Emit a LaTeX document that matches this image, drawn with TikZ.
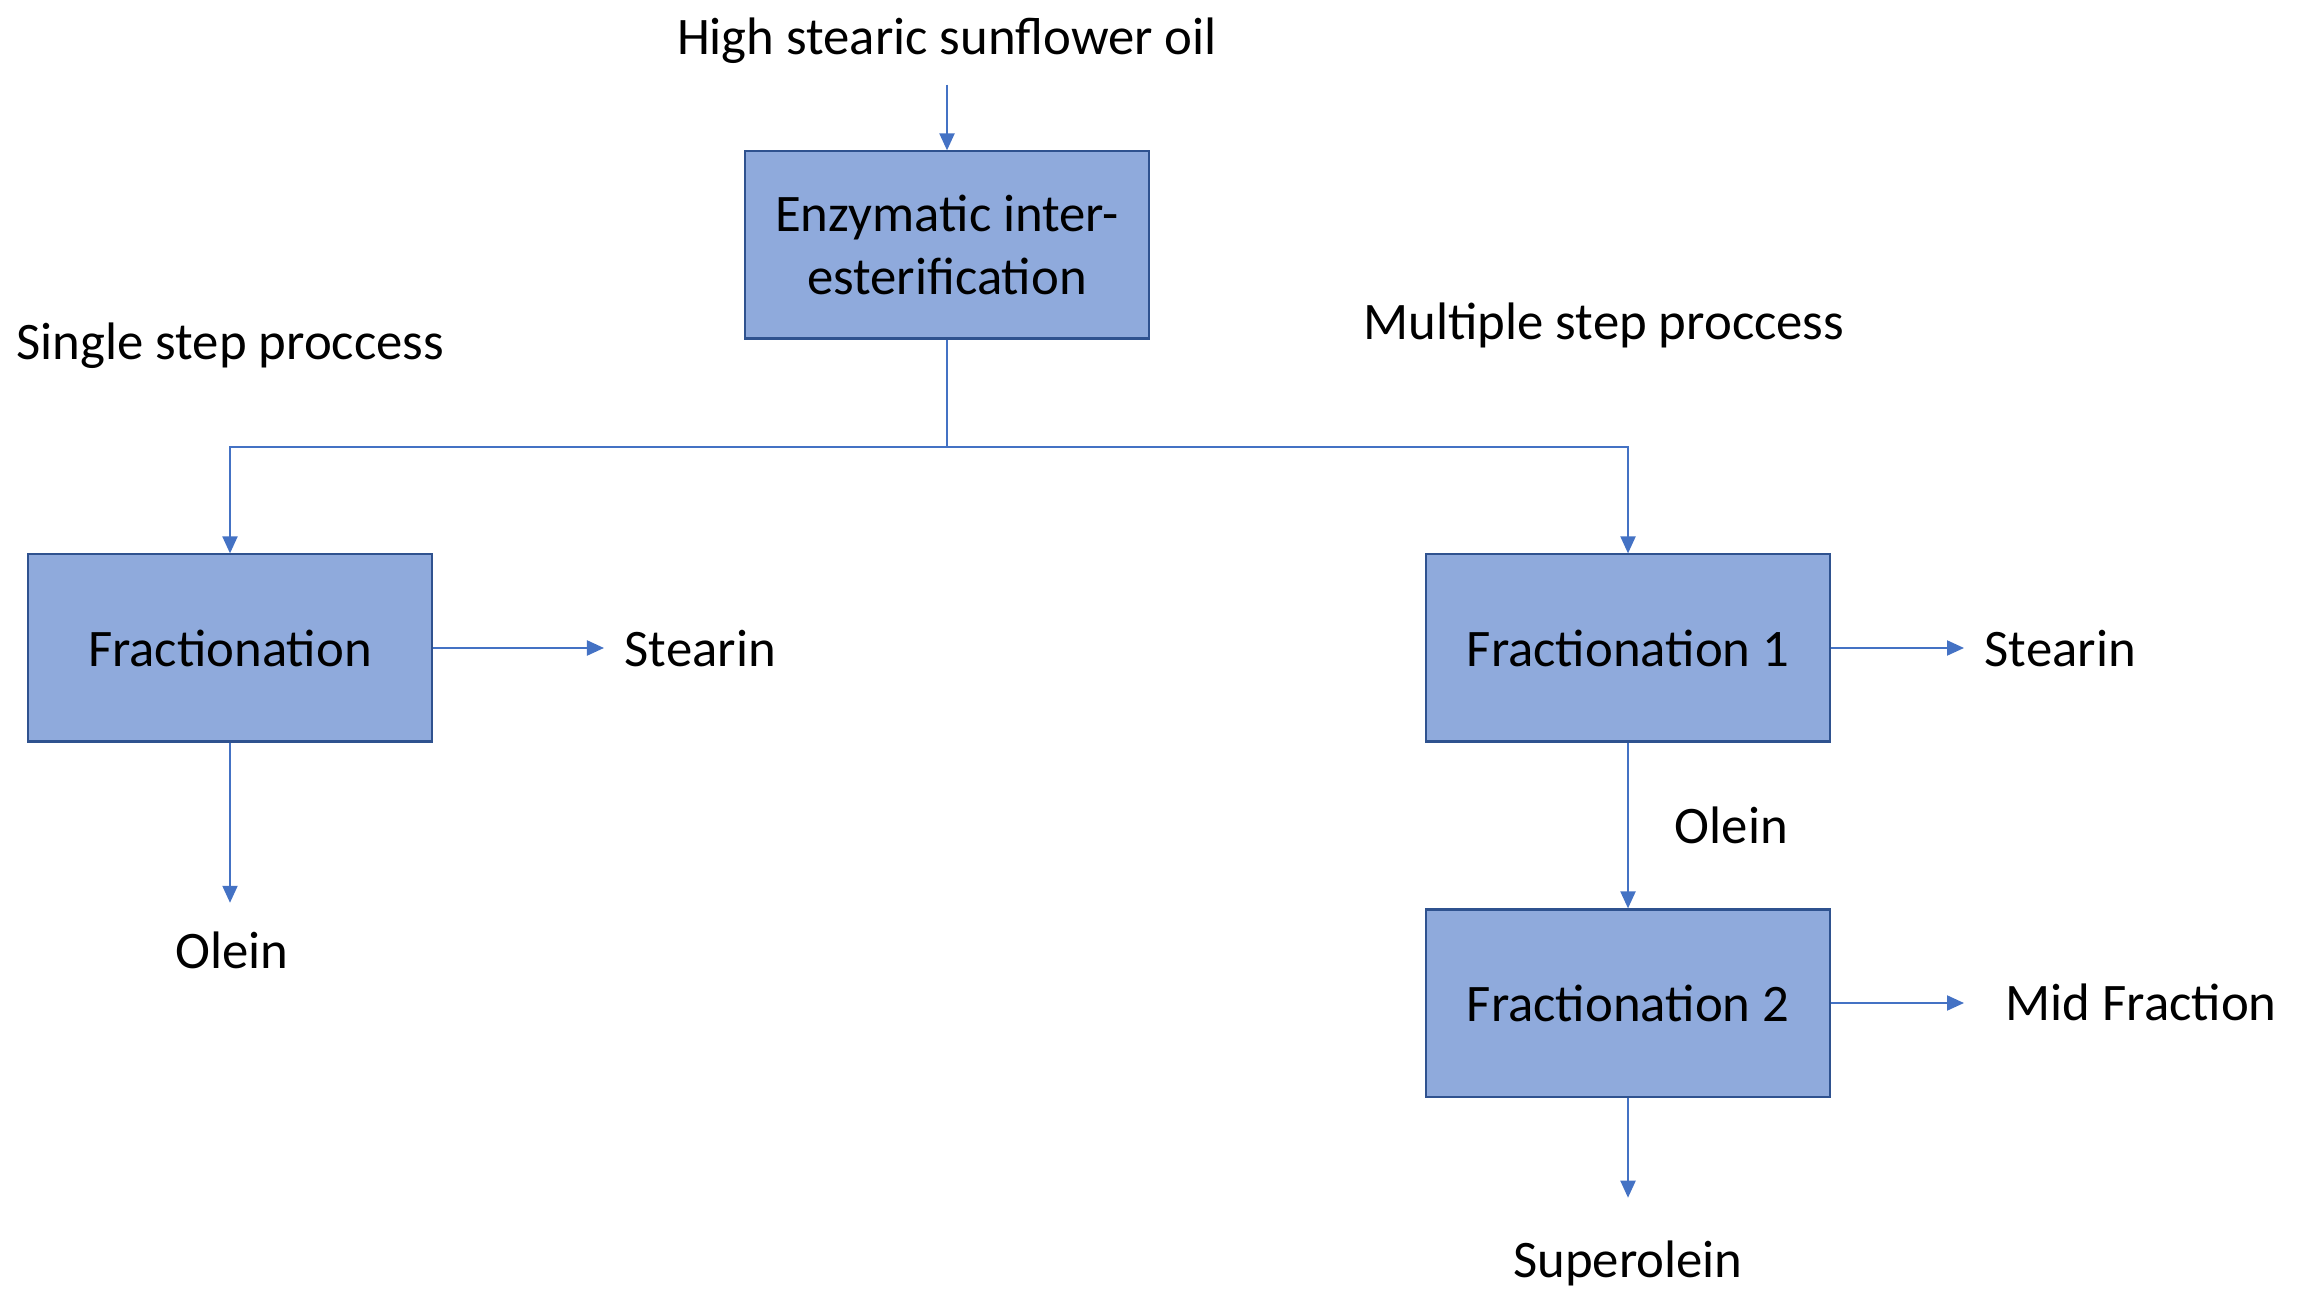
\documentclass[tikz,border=0pt]{standalone}
\usepackage{fontspec}
\setmainfont{Carlito}
\usetikzlibrary{arrows.meta,calc}
\definecolor{boxfill}{RGB}{143,170,220}
\definecolor{boxline}{RGB}{47,82,143}
\definecolor{flowline}{RGB}{68,114,196}

\begin{document}
\begin{tikzpicture}[x=0.01cm,y=-0.01cm,font=\fontsize{15}{18}\selectfont]
\tikzstyle{stage}=[draw=boxline,fill=boxfill,line width=0.6pt,minimum width=4.04cm,minimum height=1.87cm,inner sep=0pt,align=center]
\tikzstyle{flow}=[draw=flowline,line width=0.6pt,-{Triangle[length=0.17cm,width=0.15cm]}]
\tikzstyle{lbl}=[inner sep=0pt]
\useasboundingbox (0,0) rectangle (2298,1298);
% process boxes
\node[stage] (enz) at (947,245) {Enzymatic inter-\\esterification};
\node[stage] (frac) at (230,648) {Fractionation};
\node[stage] (frac1) at (1628,648) {Fractionation 1};
\node[stage] (frac2) at (1628,1003) {Fractionation 2};
% texts
\node[lbl] (oil) at (947,41) {High stearic sunflower oil};
\node[lbl,anchor=west] (single) at (16,346) {Single step proccess};
\node[lbl,anchor=west] (multi) at (1363,325) {Multiple step proccess};
\node[lbl,anchor=west] (stearinA) at (624,649) {Stearin};
\node[lbl] (oleinA) at (232,950) {Olein};
\node[lbl,anchor=west] (stearinB) at (1984,649) {Stearin};
\node[lbl,anchor=west] (oleinB) at (1674,825) {Olein};
\node[lbl,anchor=west] (mid) at (2005,1002) {Mid Fraction};
\node[lbl] (super) at (1628,1263) {Superolein};
\coordinate (split) at (947,447);
% connectors
\draw[flow,shorten <=0.2cm] (oil.south) -- (enz.north);
\draw[flow] (enz.south) -- (split) -| (frac.north);
\draw[flow] (split) -| (frac1.north);
\draw[flow,shorten >=0.2cm] (frac.east) -- (frac.east -| stearinA.west);
\draw[flow,shorten >=0.28cm] (frac.south) -- (frac.south |- oleinA.north);
\draw[flow,shorten >=0.2cm] (frac1.east) -- (frac1.east -| stearinB.west);
\draw[flow] (frac1.south) -- (frac2.north);
\draw[flow,shorten >=0.41cm] (frac2.east) -- (frac2.east -| mid.west);
\draw[flow,shorten >=0.42cm] (frac2.south) -- (frac2.south |- super.north);
\end{tikzpicture}
\end{document}
